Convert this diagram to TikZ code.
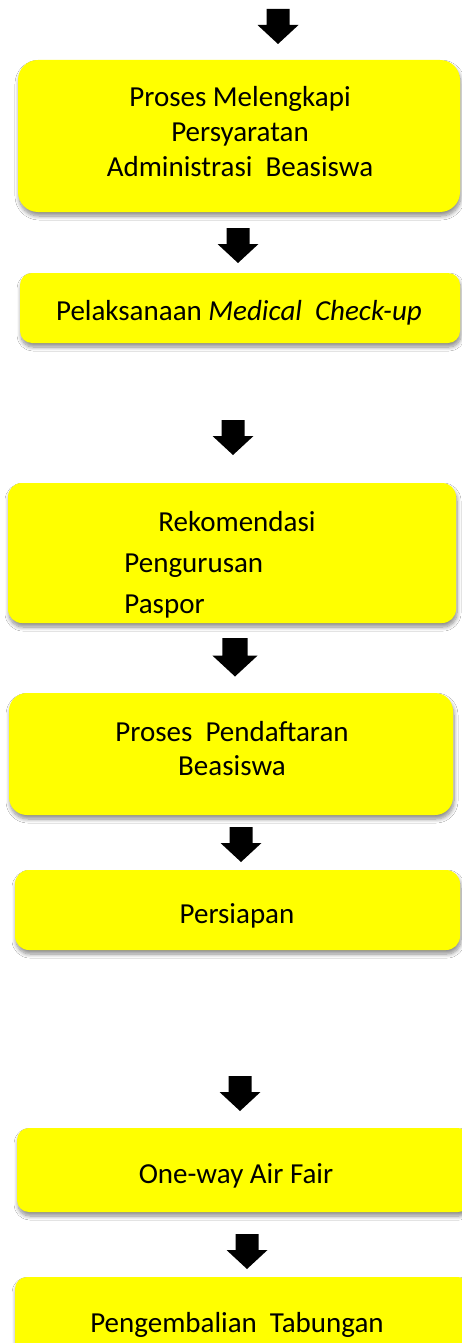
\documentclass[tikz,border=0pt]{standalone}
\usepackage{fontspec}
\setmainfont{Carlito}
\usetikzlibrary{shadows.blur}
\definecolor{boxyellow}{HTML}{FFFF00}
\tikzset{
  stepbox/.style={fill=boxyellow, draw=none, inner sep=0pt, outer sep=0pt,
    blur shadow={shadow xshift=1pt, shadow yshift=-4pt, shadow blur radius=4pt,
      shadow blur steps=8, shadow opacity=45}},
  steptext/.style={font=\fontsize{29}{35}\selectfont, align=center, inner sep=0pt},
  blockarrow/.pic={\fill[black] (-11.5,0) -- (11.5,0) -- (11.5,16) -- (20.5,16)
    -- (0,35) -- (-20.5,16) -- (-11.5,16) -- cycle;}
}
\newcommand{\wsp}{\hspace{0.45em}}
\begin{document}
\begin{tikzpicture}[x=1pt,y=-1pt]
\useasboundingbox (0,0) rectangle (462,1343);
\clip (0,0) rectangle (462,1343);
\fill[white] (0,0) rectangle (462,1343);

% boxes
\node[stepbox, rounded corners=20pt, minimum width=442pt, minimum height=152pt] (b1) at (239,136) {};
\node[stepbox, rounded corners=12pt, minimum width=440pt, minimum height=70pt] (b2) at (240,308) {};
\node[stepbox, rounded corners=14pt, minimum width=448pt, minimum height=140pt] (b3) at (232,553) {};
\node[stepbox, rounded corners=18pt, minimum width=444pt, minimum height=122pt] (b4) at (231,754) {};
\node[stepbox, rounded corners=14pt, minimum width=445pt, minimum height=80pt] (b5) at (237.5,910) {};
\node[stepbox, rounded corners=12pt, minimum width=453pt, minimum height=84pt] (b6) at (243.5,1170) {};
\node[stepbox, rounded corners=12pt, minimum width=455pt, minimum height=83pt] (b7) at (242.5,1318.5) {};

% labels
\node[steptext] (t1) at (240,132) {Proses Melengkapi\\Persyaratan\\Administrasi\wsp Beasiswa};
\node[steptext, anchor=base] (t2) at (239,320) {Pelaksanaan \textit{Medical\wsp Check-up}};
\node[steptext, align=left, font=\fontsize{29}{41}\selectfont] (t3) at (220,565) {\hspace{34pt}Rekomendasi\\Pengurusan\\Paspor};
\node[steptext, font=\fontsize{29}{34}\selectfont] (t4) at (232,749) {Proses\wsp Pendaftaran\\Beasiswa};
\node[steptext, anchor=base] (t5) at (237,923) {Persiapan};
\node[steptext, anchor=base] (t6) at (236,1183) {One-way Air Fair};
\node[steptext, anchor=base] (t7) at (237,1332) {Pengembalian\wsp Tabungan};

% arrows
\pic (a1) at (278,9) {blockarrow};
\pic (a2) at (238,228) {blockarrow};
\pic (a3) at (233,420) {blockarrow};
\pic[scale=1.1] (a4) at (235,638) {blockarrow};
\pic (a5) at (241,827) {blockarrow};
\pic (a6) at (240,1076) {blockarrow};
\pic (a7) at (247,1234) {blockarrow};
\end{tikzpicture}
\end{document}
